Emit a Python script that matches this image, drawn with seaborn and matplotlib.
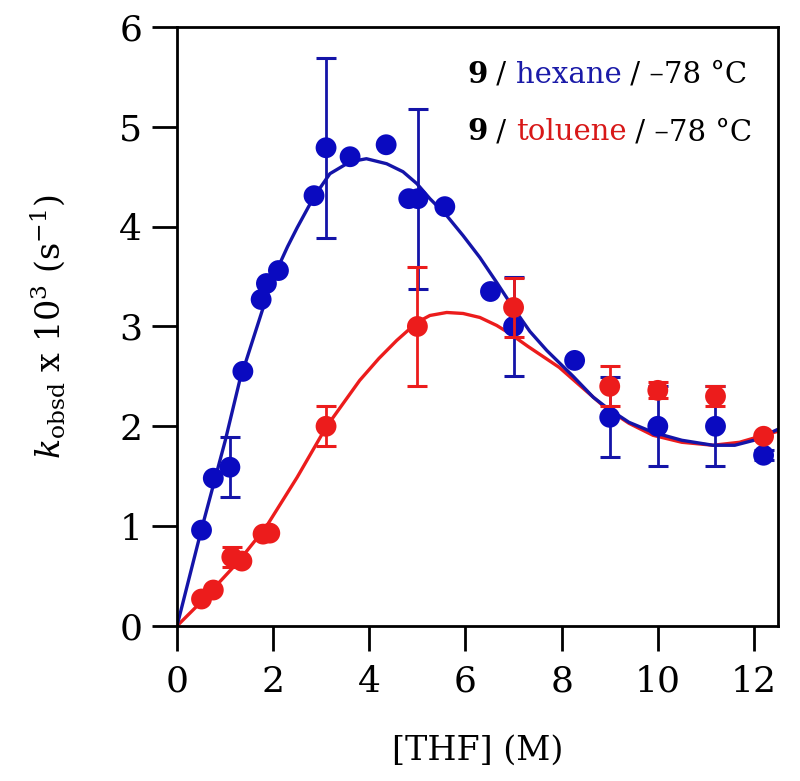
import matplotlib
matplotlib.use("Agg")
import matplotlib.pyplot as plt
import seaborn as sns
import numpy as np
import pandas as pd

# ---- data ----
hex_x = [0.51, 0.755, 1.10, 1.37, 1.75, 1.86, 2.11, 2.85, 3.10, 3.60, 4.35,
         4.82, 5.01, 5.57, 6.52, 7.00, 8.27, 9.00, 10.0, 11.2, 12.2]
hex_y = [0.96, 1.48, 1.59, 2.55, 3.27, 3.43, 3.56, 4.31, 4.79, 4.70, 4.82,
         4.28, 4.28, 4.20, 3.35, 3.00, 2.66, 2.09, 2.00, 2.00, 1.71]
hex_err = [0, 0, 0.3, 0, 0, 0, 0, 0, 0.9, 0, 0,
           0, 0.9, 0, 0, 0.5, 0, 0.4, 0.4, 0.4, 0.05]

tol_x = [0.51, 0.755, 1.14, 1.35, 1.79, 1.93, 3.10, 5.0, 7.0, 9.0, 10.0, 11.2, 12.2]
tol_y = [0.27, 0.36, 0.69, 0.65, 0.92, 0.93, 2.00, 3.00, 3.19, 2.40, 2.36, 2.30, 1.90]
tol_err = [0, 0, 0.1, 0, 0, 0, 0.2, 0.6, 0.3, 0.2, 0.08, 0.1, 0]

# fitted curves
hex_fit_x = [0, 0.5, 1.0, 1.3, 1.7, 1.9, 2.1, 2.3, 2.5, 2.85, 3.18, 3.6, 3.94,
             4.36, 4.70, 4.99, 5.26, 5.61, 5.95, 6.30, 6.65, 6.99, 7.34, 7.69,
             8.24, 8.66, 8.93, 9.4, 9.9, 10.5, 11.15, 11.6, 12.0, 12.5]
hex_fit_y = [0, 0.95, 1.85, 2.45, 3.05, 3.35, 3.59, 3.80, 3.99, 4.30, 4.53,
             4.65, 4.68, 4.63, 4.55, 4.43, 4.28, 4.11, 3.91, 3.69, 3.44, 3.19,
             2.95, 2.76, 2.50, 2.29, 2.19, 2.04, 1.94, 1.86, 1.81, 1.81, 1.86,
             1.97]
tol_fit_x = [0, 0.5, 0.75, 1.25, 1.85, 2.5, 3.1, 3.8, 4.2, 4.57, 4.99, 5.26,
             5.61, 5.95, 6.30, 6.65, 6.92, 7.3, 7.95, 8.4, 8.9, 9.4, 9.9, 10.5,
             11.15, 11.7, 12.2, 12.5]
tol_fit_y = [0, 0.24, 0.37, 0.63, 0.99, 1.49, 1.99, 2.46, 2.68, 2.86, 3.04,
             3.11, 3.14, 3.13, 3.09, 3.01, 2.93, 2.80, 2.59, 2.40, 2.19, 2.03,
             1.91, 1.84, 1.81, 1.84, 1.91, 1.95]

x_ticks = [0, 2, 4, 6, 8, 10, 12]
y_ticks = [0, 1, 2, 3, 4, 5, 6]

BLUE = "#0a0ac0"
BLUE_LINE = "#1414a8"
RED = "#ec1c1c"

sns.set_theme(style="ticks")
plt.rcParams["font.family"] = ["DejaVu Serif"]
plt.rcParams["mathtext.fontset"] = "dejavuserif"
plt.rcParams["text.color"] = "black"
plt.rcParams["axes.labelcolor"] = "black"

fig = plt.figure(figsize=(8, 7.81), dpi=100)
ax = fig.add_axes([0.22125, 0.1985, 0.75125, 0.767])

hex_df = pd.DataFrame({"x": hex_x, "y": hex_y, "err": hex_err})
tol_df = pd.DataFrame({"x": tol_x, "y": tol_y, "err": tol_err})

sns.lineplot(x=tol_fit_x, y=tol_fit_y, ax=ax, color=RED, lw=2.4, sort=False, zorder=2)
sns.lineplot(x=hex_fit_x, y=hex_fit_y, ax=ax, color=BLUE_LINE, lw=2.4, sort=False, zorder=2.5)

he = hex_df[hex_df["err"] > 0]
ax.errorbar(he["x"], he["y"], yerr=he["err"], fmt="none", ecolor=BLUE_LINE,
            elinewidth=2.0, capsize=7.5, capthick=2.2, zorder=3)
sns.scatterplot(data=hex_df, x="x", y="y", ax=ax, color=BLUE, s=225,
                edgecolor="none", zorder=4)
te = tol_df[tol_df["err"] > 0]
ax.errorbar(te["x"], te["y"], yerr=te["err"], fmt="none", ecolor=RED,
            elinewidth=2.0, capsize=7.5, capthick=2.2, zorder=5)
sns.scatterplot(data=tol_df, x="x", y="y", ax=ax, color=RED, s=225,
                edgecolor="none", zorder=6)

ax.set_xlim(0, 12.5)
ax.set_ylim(0, 6)
ax.set_xticks(x_ticks)
ax.set_yticks(y_ticks)
ax.set_xticklabels([str(t) for t in x_ticks])
ax.set_yticklabels([str(t) for t in y_ticks])
for s in ax.spines.values():
    s.set_visible(True)
    s.set_linewidth(2.0)
    s.set_color("black")
ax.tick_params(axis="both", direction="out", length=18, width=2.0,
               colors="black", labelcolor="black", labelsize=26,
               top=False, right=False)
ax.tick_params(axis="x", pad=10)
ax.tick_params(axis="y", pad=7)

ax.set_xlabel("[THF] (M)", fontsize=24, color="black")
ax.xaxis.label.set_va("center")
ax.xaxis.set_label_coords(0.5, -0.208)
ax.set_ylabel(r"$k_{\mathrm{obsd}}$ x 10$^3$ (s$^{-1}$)", fontsize=24, color="black")
ax.yaxis.label.set_va("center")
ax.yaxis.set_label_coords(-0.216, 0.5)

# legend text
def rich_line(ypos, solvent, color):
    t = ax.text(0.4825, ypos, "9", transform=ax.transAxes, fontsize=21,
                fontweight="bold", color="black", va="baseline")
    pieces = [(" / ", "black"), (solvent, color), (" / –78 °C", "black")]
    for s, c in pieces:
        t = ax.annotate(s, xycoords=t, xy=(1, 0), va="bottom", fontsize=21,
                        color=c)

rich_line(0.9065, "hexane", "#1a1aa8")
rich_line(0.811, "toluene", "#d81818")

fig.savefig("out.png", dpi=100)
